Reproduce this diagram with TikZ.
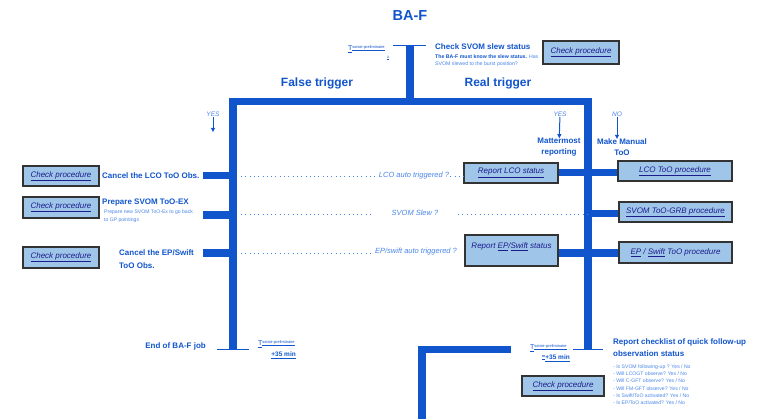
\documentclass[tikz,border=0pt]{standalone}
\usepackage{fontspec}
\setmainfont{Liberation Sans}
\usetikzlibrary{arrows.meta}
\definecolor{tblue}{HTML}{1155CC}
\definecolor{lblue}{HTML}{4A86E8}
\definecolor{boxfill}{HTML}{9FC5E8}
\definecolor{linkc}{HTML}{1C1C8C}
\definecolor{boxedge}{HTML}{333333}
\newcommand{\fsz}[2]{\fontsize{#1}{#2}\selectfont}
\newcommand{\tlab}{\underline{T}\raisebox{2.5pt}{\fsz{4}{4}\underline{saisie-preliminaire}}}
\tikzset{
  lbl/.style={text=tblue, font=\bfseries\fsz{8}{12.5}, inner sep=0pt},
  small/.style={text=lblue, font=\fsz{5.1}{8}, inner sep=0pt},
  quest/.style={text=lblue, font=\itshape\fsz{7.5}{9}, inner sep=1pt},
  procbox/.style={draw=boxedge, line width=1.3pt, fill=boxfill, text=linkc, font=\itshape\fsz{8}{10}, inner sep=0pt, align=center},
  thickl/.style={draw=tblue, line width=7.5pt, line join=miter},
  thinl/.style={draw=tblue, line width=1pt},
  dotl/.style={draw=lblue, line width=0.9pt, dash pattern=on 0.9pt off 3.4pt},
  yesno/.style={text=lblue, font=\itshape\fsz{6.5}{7}, inner sep=0.5pt},
  arr/.style={draw=tblue, line width=1pt, -{Triangle[length=4pt,width=4pt]}},
  tnote/.style={text=tblue, font=\fsz{7}{8}, inner sep=0pt},
  plus/.style={text=tblue, font=\bfseries\fsz{6.5}{8}, inner sep=0pt}
}
\begin{document}
\begin{tikzpicture}[x=1pt,y=-1pt]
\useasboundingbox (0,0) rectangle (768,419);
\fill[white] (0,0) rectangle (768,419);
% title
\node[text=tblue, font=\bfseries\fsz{14.5}{16}] (title) at (410,16) {BA-F};
% top check
\node[lbl, anchor=west] (check) at (435,47) {Check SVOM slew status};
\node[small, anchor=north west, align=left, font=\fsz{5.2}{7}] (checktxt) at (435,54.5) {\textbf{\color{tblue}The BA-F must know the slew status.} Has\\SVOM slewed to the burst position?};
\node[procbox, minimum width=76pt, minimum height=23pt] (chktop) at (581,52.5) {\underline{Check procedure}};
\node[tnote, anchor=west] (ttop) at (348,49) {\tlab};
\node[text=tblue, font=\fsz{4}{4}, inner sep=0pt] (ttopz) at (388,58) {\underline{z}};
% trunk
\coordinate (topT) at (410,45.5);
\coordinate (split) at (410,101.5);
\coordinate (lbot) at (233,350);
\coordinate (rbot) at (588,350);
\draw[thinl] (393,45.5) -- (426,45.5);
\draw[thickl] (topT) -- (split);
\draw[thickl] (lbot) -- (lbot |- split) -- (rbot |- split) -- (rbot);
\node[text=tblue, font=\bfseries\fsz{12}{14}] (falset) at (317,83) {False trigger};
\node[text=tblue, font=\bfseries\fsz{12}{14}] (realt) at (498,83) {Real trigger};
% YES / NO
\node[yesno] (yes1) at (213,114) {YES};
\coordinate (yes1e) at (213,132);
\draw[arr] (yes1) -- (yes1e);
\node[yesno] (yes2) at (560,114) {YES};
\node[lbl, align=center, font=\bfseries\fsz{8}{11}] (matter) at (559,147.5) {Mattermost\\reporting};
\draw[arr] (yes2) -- (matter);
\node[yesno] (no) at (617,114) {NO};
\node[lbl, align=center, font=\bfseries\fsz{8}{11}] (manual) at (622,147.5) {Make Manual\\ToO};
\draw[arr] (no) -- (no |- manual.north);
% left side
\node[procbox, minimum width=76pt, minimum height=20pt] (chk1) at (61,176) {\underline{Check procedure}};
\node[procbox, minimum width=76pt, minimum height=21pt] (chk2) at (61,207.5) {\underline{Check procedure}};
\node[procbox, minimum width=76pt, minimum height=21pt] (chk3) at (61,257.5) {\underline{Check procedure}};
\node[lbl, anchor=west] (cancel1) at (102,176) {Cancel the LCO ToO Obs.};
\node[lbl, anchor=west] (prep) at (102,203) {Prepare SVOM ToO-EX};
\node[small, anchor=north west, align=left] (preptxt) at (104,210) {Prepare new SVOM ToO-Ex to go back\\to GP pointings};
\node[lbl, anchor=west, align=left] (cancel3) at (119,259) {Cancel the EP/Swift\\ToO Obs.};
\coordinate (s1) at (203,175.5);
\coordinate (s2) at (203,215);
\coordinate (s3) at (203,253);
\draw[thickl] (s1) -- (s1 -| lbot);
\draw[thickl] (s2) -- (s2 -| lbot);
\draw[thickl] (s3) -- (s3 -| lbot);
% right side boxes
\node[procbox, minimum width=94pt, minimum height=20pt] (rlco) at (511,173) {\underline{Report LCO status}};
\node[procbox, minimum width=93pt, minimum height=31pt, text height=12.5pt, text depth=16.5pt] (rep) at (511.5,250.5) {Report \underline{EP}/\underline{Swift} status};
\node[procbox, minimum width=114pt, minimum height=20pt] (lcotoo) at (675,171) {\underline{LCO ToO procedure}};
\node[procbox, minimum width=113pt, minimum height=20pt] (svomgrb) at (675.5,212) {\underline{SVOM ToO-GRB procedure}};
\node[procbox, minimum width=113pt, minimum height=21pt] (epto) at (675.5,252.5) {\underline{EP} / \underline{Swift} ToO procedure};
\draw[thickl] (rlco.east |- 0,172.5) -- (lcotoo.west |- 0,172.5);
\draw[thickl] (rbot |- 0,213.5) -- (svomgrb.west |- 0,213.5);
\draw[thickl] (rep.east |- 0,253) -- (epto.west |- 0,253);
% questions
\node[quest] (q1) at (414,176) {LCO auto triggered ?};
\node[quest] (q2) at (415,213) {SVOM Slew ?};
\node[quest] (q3) at (416,252) {EP/swift auto triggered ?};
\coordinate (d1) at (241,176);
\coordinate (d2) at (241,214);
\coordinate (d3) at (241,253);
\draw[dotl] (d1) -- (q1.west);
\draw[dotl] (q1.east) -- (rlco.west |- q1.east);
\draw[dotl] (d2) -- (374,214);
\draw[dotl] (458,214) -- (rbot |- 0,214);
\draw[dotl] (d3) -- (q3.west |- d3);
% bottom left
\draw[thinl] (217,350) -- (249,350);
\node[lbl, anchor=east] (endjob) at (206,346) {End of BA-F job};
\node[tnote, anchor=west] (tl) at (258,344) {\tlab};
\node[plus, anchor=east] (pl) at (296,355) {\underline{+35 min}};
% bottom right
\draw[thinl] (573,350) -- (603,350);
\node[tnote, anchor=west] (tr) at (530,348) {\tlab};
\node[plus, anchor=east] (pr) at (570,358) {\raisebox{1.5pt}{\fsz{3.6}{4}\underline{m}}\underline{+35 min}};
\node[procbox, minimum width=82pt, minimum height=20pt] (chkbot) at (563,386) {\underline{Check procedure}};
\node[lbl, anchor=north west, align=left] (checklist) at (613,338.5) {Report checklist of quick follow-up\\observation status};
\node[small, anchor=north west, align=left, font=\fsz{5.1}{7.3}] (items) at (613,364.5) {- Is SVOM following-up ? Yes / No\\- Will LCOGT observe? Yes / No\\- Will C-GFT observe? Yes / No\\- Will FM-GFT observe? Yes / No\\- Is Swift/ToO activated? Yes / No\\- Is EP/ToO activated? Yes / No};
\coordinate (lstart) at (511,349.5);
\coordinate (lcorner) at (422,349.5);
\coordinate (lend) at (422,423);
\draw[thickl] (lstart) -- (lcorner) -- (lend);
\end{tikzpicture}
\end{document}
